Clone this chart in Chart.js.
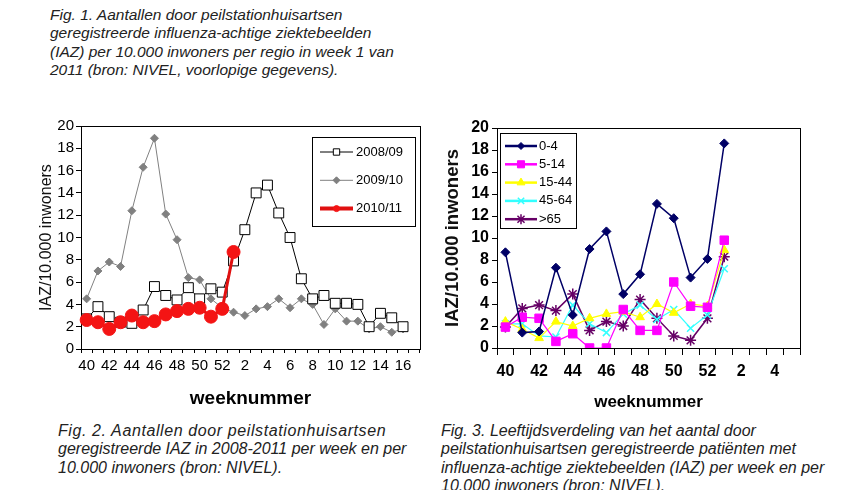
<!DOCTYPE html>
<html>
<head>
<meta charset="utf-8">
<script src="https://cdn.jsdelivr.net/npm/chart.js@4.4.1/dist/chart.umd.min.js"></script>
<style>
  html, body { margin: 0; padding: 0; background: #fff; }
  body { width: 850px; height: 490px; position: relative; overflow: hidden; font-family: 'Liberation Sans', Arial, sans-serif; }
  .cap { position: absolute; font-style: italic; color: #222; white-space: nowrap; }
  #cap1 { left: 50px; top: 6px; font-size: 15.5px; line-height: 18.3px; }
  #cap2 { left: 58px; top: 422px; font-size: 16px; line-height: 18.4px; }
  #cap2 .wide { letter-spacing: 0.6px; }
  #cap3 { left: 441px; top: 422px; font-size: 16px; line-height: 18.4px; }
  canvas { position: absolute; }
  #left { left: 0; top: 100px; }
  #right { left: 440px; top: 100px; }
</style>
</head>
<body>
<div class="cap" id="cap1">Fig. 1. Aantallen door peilstationhuisartsen<br>geregistreerde influenza-achtige ziektebeelden<br>(IAZ) per 10.000 inwoners per regio in week 1 van<br>2011 (bron: NIVEL, voorlopige gegevens).</div>
<canvas id="left" width="440" height="320"></canvas>
<canvas id="right" width="410" height="320"></canvas>
<div class="cap" id="cap2"><span class="wide">Fig. 2. Aantallen door peilstationhuisartsen</span><br>geregistreerde IAZ in 2008-2011 per week en per<br>10.000 inwoners (bron: NIVEL).</div>
<div class="cap" id="cap3">Fig. 3. Leeftijdsverdeling van het aantal door<br>peilstationhuisartsen geregistreerde patiënten met<br>influenza-achtige ziektebeelden (IAZ) per week en per<br>10.000 inwoners (bron: NIVEL).</div>
<script>
// weeks 40..52 then 1..17 (season chart) and 40..52, 1..5 (age chart)
const seasonWeeks = ['40','41','42','43','44','45','46','47','48','49','50','51','52',
  '1','2','3','4','5','6','7','8','9','10','11','12','13','14','15','16','17'];
const ageWeeks = ['40','41','42','43','44','45','46','47','48','49','50','51','52','1','2','3','4','5'];

const season0809 = [2.7, 3.8, 2.9, 2.4, 2.3, 3.5, 5.6, 4.8, 4.4, 5.5, 4.5, 5.4, 5.1,
  7.9, 10.7, 14.0, 14.7, 12.2, 10.0, 6.3, 4.5, 4.8, 4.1, 4.1, 4.0, 2.0, 3.2, 2.8, 2.0];
const season0910 = [4.5, 7.0, 7.8, 7.4, 12.4, 16.3, 18.9, 12.1, 9.8, 6.4, 6.2, 4.5, 3.7,
  3.3, 3.0, 3.6, 3.8, 4.5, 3.7, 4.5, 4.0, 2.2, 3.6, 2.5, 2.5, 1.8, 2.0, 1.5, 1.8];
const season1011 = [2.6, 2.4, 1.8, 2.4, 3.0, 2.4, 2.5, 3.1, 3.4, 3.6, 3.7, 2.9, 3.6, 8.7];

const age0to4 = [8.7, 1.4, 1.5, 7.3, 3.0, 9.0, 10.6, 4.9, 6.7, 13.1, 11.8, 6.4, 8.1, 18.6];
const age5to14 = [1.9, 2.8, 2.7, 0.6, 1.3, 0, 0, 3.5, 1.6, 1.6, 6.0, 3.8, 3.7, 9.8];
const age15to44 = [2.4, 1.7, 0.9, 2.4, 2.0, 2.7, 3.1, 3.3, 2.8, 4.0, 3.2, 4.0, 3.8, 8.9];
const age45to64 = [2.2, 2.2, 1.1, 1.0, 3.9, 2.2, 1.4, 3.1, 3.9, 2.6, 3.5, 1.8, 3.0, 7.2];
const age65plus = [1.9, 3.6, 3.9, 3.4, 4.9, 1.6, 2.4, 2.0, 4.4, 2.7, 1.1, 0.7, 2.7, 8.3];

const yTicks = { min: 0, max: 20, step: 2 };
const FONT = "'Liberation Sans', Arial, sans-serif";

// box around the plot area, Excel style
const plotFrame = {
  id: 'plotFrame',
  beforeDatasetsDraw(chart) {
    const { ctx, chartArea: a } = chart;
    ctx.save();
    ctx.strokeStyle = '#000';
    ctx.lineWidth = 1;
    ctx.strokeRect(Math.round(a.left) + 0.5, Math.round(a.top) + 0.5,
      Math.round(a.right - a.left), Math.round(a.bottom - a.top));
    ctx.restore();
  }
};

// legend inside the plot, drawn from the datasets
const boxLegend = {
  id: 'boxLegend',
  afterDatasetsDraw(chart, args, o) {
    const ctx = chart.ctx;
    ctx.save();
    ctx.fillStyle = '#fff';
    ctx.fillRect(o.x, o.y, o.w, o.h);
    ctx.strokeStyle = '#000';
    ctx.lineWidth = 1;
    ctx.strokeRect(o.x + 0.5, o.y + 0.5, o.w, o.h);
    chart.data.datasets.forEach((ds, i) => {
      const y = o.rowY + i * o.rowGap;
      ctx.strokeStyle = ds.borderColor;
      ctx.lineWidth = ds.legendLineWidth || ds.borderWidth;
      ctx.beginPath();
      ctx.moveTo(o.lineX0, y);
      ctx.lineTo(o.lineX1, y);
      ctx.stroke();
      ctx.fillStyle = ds.pointBackgroundColor;
      ctx.strokeStyle = ds.pointBorderColor;
      ctx.lineWidth = ds.pointBorderWidth;
      Chart.helpers.drawPoint(ctx, {
        pointStyle: ds.pointStyle,
        radius: ds.legendPointRadius,
        borderWidth: ds.pointBorderWidth,
        rotation: 0
      }, (o.lineX0 + o.lineX1) / 2, y);
      ctx.fillStyle = '#000';
      ctx.font = o.font;
      ctx.textBaseline = 'middle';
      ctx.textAlign = 'left';
      ctx.fillText(ds.label, o.textX, y);
    });
    ctx.restore();
  }
};

function everyOther(value, index) {
  return index % 2 === 0 ? this.getLabelForValue(value) : '';
}

function axes(cfg) {
  return {
    x: {
      type: 'category',
      offset: true,
      grid: { display: true, offset: true, drawOnChartArea: false, drawTicks: true,
        tickLength: cfg.xTickLen, tickColor: '#000', color: '#000' },
      border: { display: true, color: '#000', width: 1 },
      ticks: { autoSkip: false, maxRotation: 0, callback: everyOther, color: '#000',
        padding: cfg.xPad, font: cfg.tickFont },
      title: { display: true, text: 'weeknummer', color: '#000', font: cfg.xTitleFont,
        padding: { top: 0, bottom: cfg.xTitlePad } },
      afterFit(scale) { scale.height = cfg.xHeight; }
    },
    y: {
      min: yTicks.min,
      max: yTicks.max,
      grid: { display: true, drawOnChartArea: false, drawTicks: true,
        tickLength: 5, tickColor: '#000', color: '#000' },
      border: { display: true, color: '#000', width: 1 },
      ticks: { stepSize: yTicks.step, autoSkip: false, color: '#000', padding: cfg.yPad, font: cfg.tickFont },
      title: { display: true, text: 'IAZ/10.000 inwoners', color: '#111', font: cfg.yTitleFont,
        padding: { top: cfg.yTitlePad, bottom: 0 } },
      afterFit(scale) { scale.width = cfg.yWidth; }
    }
  };
}

new Chart(document.getElementById('left'), {
  type: 'line',
  data: {
    labels: seasonWeeks,
    datasets: [
      {
        label: '2008/09', data: season0809, order: 1,
        borderColor: '#000', borderWidth: 1, legendLineWidth: 1,
        pointStyle: 'rect', pointRadius: 7, legendPointRadius: 4.5,
        pointBackgroundColor: '#fff', pointBorderColor: '#000', pointBorderWidth: 1
      },
      {
        label: '2009/10', data: season0910, order: 2,
        borderColor: '#808080', borderWidth: 1, legendLineWidth: 1,
        pointStyle: 'rectRot', pointRadius: 4, legendPointRadius: 3.5,
        pointBackgroundColor: '#808080', pointBorderColor: '#808080', pointBorderWidth: 1
      },
      {
        label: '2010/11', data: season1011, order: 0,
        borderColor: '#e01010', borderWidth: 3, legendLineWidth: 4,
        pointStyle: 'circle', pointRadius: 6.5, legendPointRadius: 3,
        pointBackgroundColor: '#f41414', pointBorderColor: '#f41414', pointBorderWidth: 1
      }
    ]
  },
  options: {
    responsive: false,
    animation: false,
    layout: { padding: { top: 26, right: 20, bottom: 0, left: 0 } },
    plugins: {
      legend: { display: false },
      tooltip: { enabled: false },
      boxLegend: { x: 312, y: 37, w: 103, h: 89, rowY: 52, rowGap: 28.3,
        lineX0: 320, lineX1: 353, textX: 356, font: '13px ' + FONT }
    },
    scales: axes({
      xTickLen: 4, xPad: 4, xHeight: 71, xTitlePad: 10, yWidth: 81, yPad: 2, yTitlePad: 37,
      tickFont: { family: FONT, size: 15 },
      xTitleFont: { family: FONT, size: 19, weight: 'bold' },
      yTitleFont: { family: FONT, size: 16 }
    })
  },
  plugins: [plotFrame, boxLegend]
});

new Chart(document.getElementById('right'), {
  type: 'line',
  data: {
    labels: ageWeeks,
    datasets: [
      {
        label: '0-4', data: age0to4,
        borderColor: '#000066', borderWidth: 1.5, legendLineWidth: 2.5,
        pointStyle: 'rectRot', pointRadius: 4.5, legendPointRadius: 3.5,
        pointBackgroundColor: '#000066', pointBorderColor: '#000066', pointBorderWidth: 1
      },
      {
        label: '5-14', data: age5to14,
        borderColor: '#ff00ff', borderWidth: 1.2, legendLineWidth: 2.5,
        pointStyle: 'rect', pointRadius: 6, legendPointRadius: 5,
        pointBackgroundColor: '#ff00ff', pointBorderColor: '#ff00ff', pointBorderWidth: 1
      },
      {
        label: '15-44', data: age15to44,
        borderColor: '#ffff00', borderWidth: 1.2, legendLineWidth: 2.5,
        pointStyle: 'triangle', pointRadius: 5, legendPointRadius: 4.5,
        pointBackgroundColor: '#ffff00', pointBorderColor: '#ffff00', pointBorderWidth: 1
      },
      {
        label: '45-64', data: age45to64,
        borderColor: '#33ffff', borderWidth: 1.2, legendLineWidth: 2.5,
        pointStyle: 'crossRot', pointRadius: 5, legendPointRadius: 4.5,
        pointBackgroundColor: '#33ffff', pointBorderColor: '#33ffff', pointBorderWidth: 1.5
      },
      {
        label: '>65', data: age65plus,
        borderColor: '#660066', borderWidth: 1.5, legendLineWidth: 2.5,
        pointStyle: 'star', pointRadius: 5.5, legendPointRadius: 5,
        pointBackgroundColor: '#660066', pointBorderColor: '#660066', pointBorderWidth: 1.5
      }
    ]
  },
  options: {
    responsive: false,
    animation: false,
    layout: { padding: { top: 28, right: 50, bottom: 0, left: 0 } },
    plugins: {
      legend: { display: false },
      tooltip: { enabled: false },
      boxLegend: { x: 60, y: 33, w: 76, h: 95, rowY: 46, rowGap: 18.3,
        lineX0: 65, lineX1: 97, textX: 99, font: '13px ' + FONT }
    },
    scales: axes({
      xTickLen: 7, xPad: 7, xHeight: 72, xTitlePad: 7, yWidth: 57, yPad: 3, yTitlePad: 2,
      tickFont: { family: FONT, size: 16, weight: 'bold' },
      xTitleFont: { family: FONT, size: 17, weight: 'bold' },
      yTitleFont: { family: FONT, size: 18.5, weight: 'bold' }
    })
  },
  plugins: [plotFrame, boxLegend]
});
</script>
</body>
</html>
